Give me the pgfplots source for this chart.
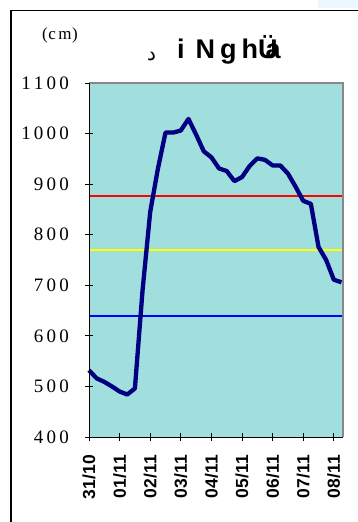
\documentclass[border=0pt]{standalone}
\usepackage{fontspec}
\setmainfont{Liberation Serif}
\newfontfamily\arialb{Liberation Sans}
\newfontfamily\arabicfont[Script=Arabic]{DejaVu Sans}
\TeXXeTstate=1
\usepackage{pgfplots}
\pgfplotsset{compat=1.18}
\definecolor{bg}{RGB}{161,223,223}
\definecolor{navy}{RGB}{0,0,128}
\definecolor{yel}{RGB}{255,255,0}
\definecolor{bordergray}{RGB}{136,136,136}
\begin{document}
\begin{tikzpicture}[x=1pt,y=1pt]
\fill[cyan!8] (318,0) rectangle (358,-8);
\draw[line width=1.2pt] (11,-522) -- (11,-10.7) -- (358,-10.7);
\node[anchor=base west, inner sep=0, font=\fontsize{17}{17}\selectfont] at (42,-39.5) {(\kern0.5pt c\kern2.5pt m\kern0.5pt)};
\node[anchor=base west, inner sep=0] at (147,-60) {\arabicfont\fontsize{20}{20}\selectfont\beginR د\endR};
\node[anchor=base west, inner sep=0, font=\arialb\bfseries\fontsize{27}{27}\selectfont] at (177,-58.3) {i\kern11pt N\kern5pt g\kern5pt h\kern0pt Ü\kern-12pt a};
\begin{axis}[at={(89pt,-437pt)}, anchor=south west, scale only axis,
  width=254pt, height=354pt,
  xmin=0, xmax=8.3, ymin=400, ymax=1100,
  axis background/.style={fill=bg},
  axis line style={draw=none},
  ytick={400,500,600,700,800,900,1000,1100},
  yticklabels={4\,0\,0,5\,0\,0,6\,0\,0,7\,0\,0,8\,0\,0,9\,0\,0,1\,0\,0\,0,1\,1\,0\,0},
  xtick={0,1,2,3,4,5,6,7,8},
  xticklabels={31/10,01/11,02/11,03/11,04/11,05/11,06/11,07/11,08/11},
  xtick pos=bottom, ytick pos=left,
  tick align=center, major tick length=8pt,
  tick style={black, line width=0.8pt},
  yticklabel style={font=\fontsize{19}{19}\selectfont, anchor=east, inner sep=0pt, xshift=-16pt},
  xticklabel style={font=\arialb\bfseries\fontsize{17.5}{17.5}\selectfont, rotate=90, anchor=east, inner sep=0pt, xshift=-14pt},
  clip=false]
\addplot[red, line width=2pt] coordinates {(0,877) (8.3,877)};
\addplot[yel, line width=2pt] coordinates {(0,769) (8.3,769)};
\addplot[blue, line width=2pt] coordinates {(0,640) (8.3,640)};
\addplot[navy, line width=4.3pt, line join=round] coordinates {
(0,532) (0.25,516) (0.5,509) (0.75,500) (1,490) (1.25,484) (1.5,496) (1.75,690)
(2,845) (2.25,930) (2.5,1002) (2.75,1002) (3,1006) (3.25,1029) (3.5,998) (3.75,965)
(4,953) (4.25,931) (4.5,926) (4.75,906) (5,914) (5.25,936) (5.5,951) (5.75,948)
(6,937) (6.25,937) (6.5,921) (6.75,895) (7,867) (7.25,861) (7.5,776) (7.75,750)
(8,711) (8.25,706)};
\draw[bordergray, line width=2pt] (rel axis cs:0,1) -- (rel axis cs:1,1) -- (rel axis cs:1,0);
\draw[black, line width=0.8pt] (rel axis cs:0,1) -- (rel axis cs:0,0) -- (rel axis cs:1,0);
\end{axis}
\pgfresetboundingbox
\path (0,0) rectangle (358,-522);
\end{tikzpicture}
\end{document}
